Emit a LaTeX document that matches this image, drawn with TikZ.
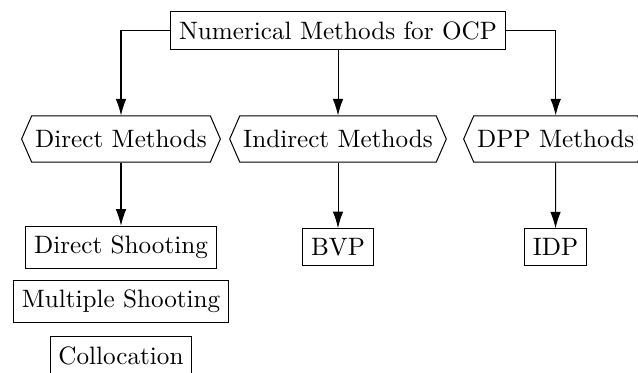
\documentclass[tikz,border=0pt]{standalone}
\usetikzlibrary{shapes.symbols,arrows.meta}
\begin{document}
\begin{tikzpicture}[x=0.39761pt,y=-0.39761pt,
  box/.style={draw,rectangle,inner xsep=3.33pt,inner ysep=3.9pt,line width=0.4pt},
  hexbox/.style={draw,signal,signal to=west and east,signal pointer angle=133,
    inner xsep=1.4pt,minimum height=18.3pt,line width=0.4pt},
  arr/.style={-{Latex[length=6.6pt,width=4.2pt]},line width=0.4pt}]
\useasboundingbox (0,0) rectangle (638,372);
\node[box] (top) at (338,30.5) {Numerical Methods for OCP};
\node[hexbox] (dm) at (121,139) {Direct Methods};
\node[hexbox] (im) at (338,139) {Indirect Methods};
\node[hexbox] (dpp) at (555.7,139) {DPP Methods};
\node[box] (ds) at (121,247.5) {Direct Shooting};
\node[box] (ms) at (121,301.7) {Multiple Shooting};
\node[box] (col) at (121,355.7) {Collocation};
\node[box] (bvp) at (338,247.3) {BVP};
\node[box] (idp) at (555.5,247.3) {IDP};
\draw[arr] (top.west) -| (dm.north);
\draw[arr] (top.south) -- (im.north);
\draw[arr] (top.east) -| (dpp.north);
\draw[arr] (dm.south) -- (ds.north);
\draw[arr] (im.south) -- (bvp.north);
\draw[arr] (dpp.south) -- (idp.north);
\end{tikzpicture}
\end{document}
